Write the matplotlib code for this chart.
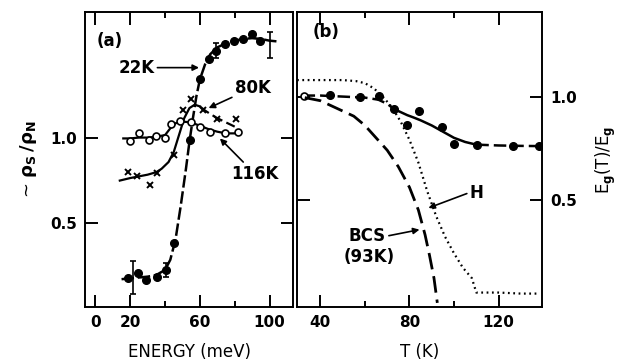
import numpy as np
import matplotlib
matplotlib.use('Agg')
import matplotlib.pyplot as plt

plt.rcParams['font.family'] = ['DejaVu Sans']
plt.rcParams['font.weight'] = 'bold'
plt.rcParams['mathtext.fontset'] = 'dejavusans'
plt.rcParams['mathtext.default'] = 'bf'

# ---- panel (a): rho_s/rho_n vs energy ----
e22 = [18.9, 24.3, 29.1, 35.3, 40.6, 45.4, 54.1, 60.2, 65.0, 69.5, 74.6, 79.4, 84.8, 90.1, 94.8]
v22 = [0.174, 0.203, 0.160, 0.176, 0.219, 0.378, 0.99, 1.35, 1.474, 1.52, 1.563, 1.579, 1.589, 1.622, 1.579]
err_e = [21.4, 40.6, 69.5, 100.2]
err_v = [0.175, 0.22, 1.52, 1.556]
err_d = [0.10, 0.04, 0.045, 0.076]
fit22_e = [15, 20, 25, 30, 35, 40, 43, 46, 49, 52, 54, 56, 58, 60, 63, 66, 70, 75, 80, 85, 90, 95, 100, 105]
fit22_v = [0.165, 0.17, 0.175, 0.18, 0.19, 0.22, 0.28, 0.40, 0.60, 0.82, 0.98, 1.12, 1.25, 1.35, 1.44, 1.50, 1.54,
           1.565, 1.58, 1.59, 1.595, 1.59, 1.58, 1.575]

e80 = [18.9, 24.1, 31.4, 35.3, 45.4, 50.3, 54.9, 61.9, 70.0, 80.9]
v80 = [0.802, 0.778, 0.723, 0.793, 0.901, 1.17, 1.231, 1.168, 1.114, 1.113]
fit80_e = [14, 20, 25, 30, 35, 38, 42, 45, 48, 51, 54, 57, 60]
fit80_v = [0.75, 0.765, 0.775, 0.785, 0.80, 0.82, 0.86, 0.92, 1.02, 1.12, 1.18, 1.20, 1.19]
fit80b_e = [60, 63, 66, 70, 75, 80]
fit80b_v = [1.19, 1.165, 1.145, 1.12, 1.095, 1.07]

e116 = [19.7, 24.8, 30.5, 35.0, 40.1, 43.4, 48.8, 54.9, 60.0, 66.0, 74.4, 81.9]
v116 = [0.984, 1.03, 0.99, 1.014, 1.004, 1.085, 1.104, 1.099, 1.069, 1.039, 1.03, 1.039]
fit116_e = [16, 20, 25, 30, 35, 40, 43, 46, 50, 55, 60, 65, 70, 75, 80, 83]
fit116_v = [1.0, 1.0, 1.005, 1.005, 1.01, 1.02, 1.06, 1.09, 1.10, 1.095, 1.075, 1.055, 1.04, 1.03, 1.03, 1.04]

# ---- panel (b): Eg(T)/Eg vs T ----
t_open = [32.5]
g_open = [1.005]
t_pts = [44.2, 57.7, 66.4, 73.0, 79.0, 84.4, 94.8, 100.0, 110.3, 126.5, 138.0]
g_pts = [1.008, 1.0, 1.003, 0.939, 0.862, 0.932, 0.854, 0.771, 0.766, 0.761, 0.761]
fitb1_t = [32, 40, 50, 60, 66, 70, 73]
fitb1_v = [1.005, 1.005, 1.0, 0.995, 0.985, 0.965, 0.94]
fitb2_t = [73, 76, 79, 82, 85, 90, 95, 100, 105, 110]
fitb2_v = [0.94, 0.925, 0.91, 0.898, 0.885, 0.86, 0.83, 0.80, 0.78, 0.767]
fitb3_t = [110, 120, 130, 138]
fitb3_v = [0.767, 0.763, 0.761, 0.76]

h_t = [29.5, 40, 50, 56, 60, 64, 68, 72, 76, 80, 84, 88, 92, 96, 100, 104, 108, 110, 120, 130, 138]
h_v = [1.08, 1.08, 1.08, 1.075, 1.065, 1.04, 1.0, 0.95, 0.88, 0.79, 0.68, 0.54, 0.42, 0.32, 0.24, 0.17, 0.12, 0.05,
       0.05, 0.045, 0.045]
bcs_t = [33, 40, 48, 55, 60, 65, 70, 75, 80, 84, 87, 89, 91, 92.5]
bcs_v = [0.995, 0.98, 0.94, 0.905, 0.86, 0.80, 0.74, 0.66, 0.56, 0.45, 0.33, 0.23, 0.12, 0.0]

W, H = 632, 364
fig = plt.figure(figsize=(W / 100, H / 100), dpi=100)
axa = fig.add_axes([85 / W, (H - 307) / H, (293 - 85) / W, 295 / H])
axb = fig.add_axes([297 / W, (H - 307) / H, (542 - 297) / W, 295 / H])

k = 'black'
for ax in (axa, axb):
    for s in ax.spines.values():
        s.set_linewidth(1.4)
    ax.tick_params(which='both', direction='in', top=True, right=True, width=1.4, labelsize=11, pad=6)
    ax.tick_params(which='major', length=9)
    ax.tick_params(which='minor', length=4)

# panel a
axa.plot(fit22_e, fit22_v, color=k, lw=1.8, dashes=[5, 1.5])
axa.plot(e22, v22, 'o', color=k, ms=5.5)
axa.errorbar(err_e, err_v, yerr=err_d, fmt='none', ecolor=k, elinewidth=1.2, capsize=2.5, capthick=1.2)
axa.plot(fit80_e, fit80_v, color=k, lw=1.6)
axa.plot(fit80b_e, fit80b_v, color=k, lw=1.6, dashes=[5, 2])
axa.plot(e80, v80, 'x', color=k, ms=5, mew=1.4)
axa.plot(fit116_e, fit116_v, color=k, lw=1.6)
axa.plot(e116, v116, 'o', mfc='white', mec=k, ms=5, mew=1.2)

axa.set_xlim(-6, 113.5)
axa.set_ylim(0, 1.75)
axa.set_xticks([0, 20, 60, 100])
axa.set_xticks([40, 80], minor=True)
axa.set_yticks([0.5, 1.0])
axa.set_yticklabels(['0.5', '1.0'])
axa.set_xlabel('ENERGY (meV)', fontsize=12, labelpad=9)
axa.set_ylabel(r'~ $\rho_S\,/\rho_N$', fontsize=13, labelpad=8)

axa.text(0.056, 0.90, '(a)', transform=axa.transAxes, fontsize=12, va='center')
arrow = dict(arrowstyle='-|>', color=k, lw=1.2, mutation_scale=9, shrinkA=0, shrinkB=0)
axa.annotate('22K', xy=(59.5, 1.42), xytext=(34, 1.42), fontsize=12, ha='right', va='center', arrowprops=arrow)
axa.annotate('80K', xy=(65, 1.18), xytext=(80, 1.30), fontsize=12, ha='left', va='center', arrowprops=arrow)
axa.annotate('116K', xy=(71.5, 1.0), xytext=(78, 0.79), fontsize=12, ha='left', va='center', arrowprops=arrow)

# panel b
axb.plot(fitb1_t, fitb1_v, color=k, lw=1.8, dashes=[5, 2])
axb.plot(fitb2_t, fitb2_v, color=k, lw=1.8)
axb.plot(fitb3_t, fitb3_v, color=k, lw=1.8, dashes=[5, 2])
axb.plot(t_pts, g_pts, 'o', color=k, ms=5.5)
axb.plot(t_open, g_open, 'o', mfc='white', mec=k, ms=5, mew=1.2)
axb.plot(h_t, h_v, color=k, lw=1.6, linestyle=(0, (0.8, 1.6)))
axb.plot(bcs_t, bcs_v, color=k, lw=2.0, dashes=[6, 2.5])

axb.set_xlim(29.5, 139.5)
axb.set_ylim(-0.02, 1.41)
axb.set_xticks([40, 80, 120])
axb.set_xticks([60, 100], minor=True)
axb.set_yticks([0.5, 1.0])
axb.set_yticklabels(['0.5', '1.0'])
axb.tick_params(axis='y', labelleft=False, labelright=True)
axb.yaxis.set_label_position('right')
axb.set_xlabel('T (K)', fontsize=12, labelpad=9)
axb.set_ylabel(r'E$_g$(T)/E$_g$', fontsize=12, labelpad=12)

axb.text(0.065, 0.933, '(b)', transform=axb.transAxes, fontsize=12, va='center')
arrow_l = dict(arrow, relpos=(0, 0.5))
axb.annotate('H', xy=(88.5, 0.46), xytext=(107, 0.535), fontsize=12, ha='left', va='center', arrowprops=arrow_l)
arrow_r = dict(arrow, relpos=(1, 0.5))
axb.annotate('BCS', xy=(84.5, 0.355), xytext=(69.5, 0.323), fontsize=12, ha='right', va='center',
             arrowprops=arrow_r)
axb.text(62, 0.22, '(93K)', fontsize=12, ha='center', va='center')

fig.savefig('out.png', dpi=100)
